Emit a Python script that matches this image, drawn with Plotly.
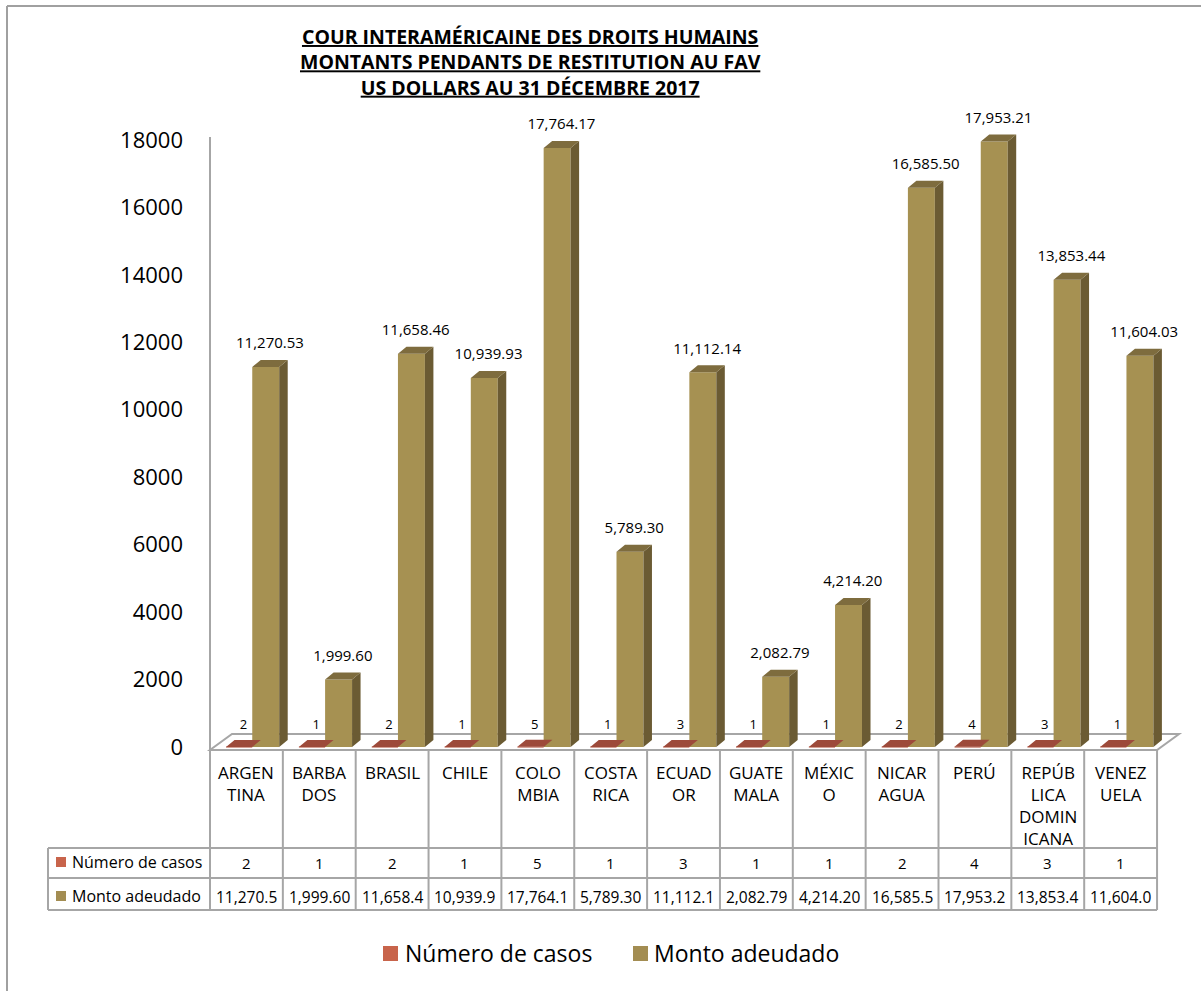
import plotly.graph_objects as go

# ---------------- data ----------------
pays = ["ARGEN<br>TINA", "BARBA<br>DOS", "BRASIL", "CHILE", "COLO<br>MBIA", "COSTA<br>RICA",
        "ECUAD<br>OR", "GUATE<br>MALA", "MÉXIC<br>O", "NICAR<br>AGUA", "PERÚ",
        "REPÚB<br>LICA<br>DOMIN<br>ICANA", "VENEZ<br>UELA"]
numero_casos = [2, 1, 2, 1, 5, 1, 3, 1, 1, 2, 4, 3, 1]
monto_adeudado = [11270.53, 1999.60, 11658.46, 10939.93, 17764.17, 5789.30, 11112.14,
                  2082.79, 4214.20, 16585.50, 17953.21, 13853.44, 11604.03]
y_ticks = [0, 2000, 4000, 6000, 8000, 10000, 12000, 14000, 16000, 18000]
serie_names = ["Número de casos", "Monto adeudado"]
title_lines = ["COUR INTERAMÉRICAINE DES DROITS HUMAINS",
               "MONTANTS PENDANTS DE RESTITUTION AU FAV",
               "US DOLLARS AU 31 DÉCEMBRE 2017"]

# ---------------- layout helpers ----------------
W, H = 1201, 991
FONT = "Open Sans"
def fx(px): return px / W
def fy(py): return 1 - py / H

RED_FRONT, RED_SIDE, RED_TOP, RED_LEG = "#B5533F", "#7E3A2C", "#9D4A3A", "#C8644B"
GOLD_FRONT, GOLD_SIDE, GOLD_TOP, GOLD_LEG = "#A69152", "#6B5B33", "#7E6C3E", "#A38D52"
GRID = "#A6A6A6"

X0PX = 210           # left of plot area
COLW = 72.85         # column width in px
N = len(pays)
XRIGHT = X0PX + COLW * N
DEPTH_PX, RISE_PX = 22, 16   # floor perspective
Y0PX = 747
K = 607 / 18000      # px per unit
YLO, YHI = -150, 20000

dx = 8.5 / COLW      # bar depth in x units
dyv = 7 / K          # bar depth in y units

idx = list(range(N))
fig = go.Figure()

def add_series(vals, off, wid, c_front, c_side, c_top, name):
    fig.add_trace(go.Bar(x=idx, y=vals, offset=off, width=wid, marker_color=c_front,
                         marker_line_width=0, name=name, showlegend=False))
    sx, sy, tx, ty = [], [], [], []
    for i, v in zip(idx, vals):
        x0 = i + off
        x1 = x0 + wid
        sx += [x1, x1 + dx, x1 + dx, x1, x1, None]
        sy += [0, dyv, v + dyv, v, 0, None]
        tx += [x0, x1, x1 + dx, x0 + dx, x0, None]
        ty += [v, v, v + dyv, v + dyv, v, None]
    fig.add_trace(go.Scatter(x=sx, y=sy, fill="toself", fillcolor=c_side, mode="none",
                             showlegend=False, hoverinfo="skip"))
    fig.add_trace(go.Scatter(x=tx, y=ty, fill="toself", fillcolor=c_top, mode="none",
                             showlegend=False, hoverinfo="skip"))

add_series(numero_casos, -0.28, 0.36, RED_FRONT, RED_SIDE, RED_TOP, serie_names[0])
add_series(monto_adeudado, 0.08, 0.37, GOLD_FRONT, GOLD_SIDE, GOLD_TOP, serie_names[1])

# data labels
fig.add_trace(go.Scatter(
    x=[i - 0.28 + 0.18 + dx / 2 for i in idx], y=[v + dyv + 8 / K for v in numero_casos],
    mode="text", text=[str(v) for v in numero_casos], textposition="top center",
    textfont=dict(family=FONT, size=13, color="#000"), cliponaxis=False,
    showlegend=False, hoverinfo="skip"))
fig.add_trace(go.Scatter(
    x=[i + 0.08 + 0.185 + dx / 2 for i in idx], y=[v + dyv + 8 / K for v in monto_adeudado],
    mode="text", text=[f"{v:,.2f}" for v in monto_adeudado], textposition="top center",
    textfont=dict(family=FONT, size=15, color="#000"), cliponaxis=False,
    showlegend=False, hoverinfo="skip"))

shapes = []
# outer frame
shapes.append(dict(type="line", xref="paper", yref="paper", x0=fx(7), x1=fx(1210),
                   y0=fy(6), y1=fy(6), line=dict(color="#A0A0A0", width=2)))
shapes.append(dict(type="line", xref="paper", yref="paper", x0=fx(7), x1=fx(7),
                   y0=fy(6), y1=fy(1000), line=dict(color="#A0A0A0", width=2)))
# floor
path = (f"M {fx(X0PX)} {fy(750)} L {fx(XRIGHT)} {fy(750)} "
        f"L {fx(XRIGHT + DEPTH_PX)} {fy(750 - RISE_PX)} L {fx(X0PX + DEPTH_PX)} {fy(750 - RISE_PX)} Z")
shapes.append(dict(type="path", xref="paper", yref="paper", path=path, fillcolor="white",
                   line=dict(color=GRID, width=2), layer="below"))
# wall / axis line
shapes.append(dict(type="line", xref="paper", yref="paper", x0=fx(X0PX), x1=fx(X0PX),
                   y0=fy(137), y1=fy(750), line=dict(color=GRID, width=2)))

# table
TOP, R1, R2, R3 = 750, 848, 878, 910
for j in range(N + 1):
    xp = X0PX + COLW * j
    shapes.append(dict(type="line", xref="paper", yref="paper", x0=fx(xp), x1=fx(xp),
                       y0=fy(TOP), y1=fy(R3), line=dict(color=GRID, width=2)))
for r in (R1, R2, R3):
    shapes.append(dict(type="line", xref="paper", yref="paper", x0=fx(48), x1=fx(XRIGHT),
                       y0=fy(r), y1=fy(r), line=dict(color=GRID, width=2)))
shapes.append(dict(type="line", xref="paper", yref="paper", x0=fx(48), x1=fx(48),
                   y0=fy(R1), y1=fy(R3), line=dict(color=GRID, width=2)))
# row-label keys
for (yc, col) in ((862, RED_LEG), (896, GOLD_LEG)):
    shapes.append(dict(type="rect", xref="paper", yref="paper", x0=fx(56), x1=fx(66),
                       y0=fy(yc - 5), y1=fy(yc + 5), fillcolor=col, line=dict(width=0)))
# bottom legend keys
for (xl, col) in ((383, RED_LEG), (633, GOLD_LEG)):
    shapes.append(dict(type="rect", xref="paper", yref="paper", x0=fx(xl), x1=fx(xl + 15),
                       y0=fy(946), y1=fy(961), fillcolor=col, line=dict(width=0)))

ann = []
for i, lab in enumerate(pays):
    xc = X0PX + COLW * (i + 0.5)
    ann.append(dict(x=fx(xc), y=fy(759), xref="paper", yref="paper", text=lab,
                    showarrow=False, xanchor="center", yanchor="top",
                    font=dict(family=FONT, size=17, color="#000")))
    ann.append(dict(x=fx(xc), y=fy(863), xref="paper", yref="paper", text=str(numero_casos[i]),
                    showarrow=False, xanchor="center", yanchor="middle",
                    font=dict(family=FONT, size=15, color="#000")))
    ann.append(dict(x=fx(xc), y=fy(897), xref="paper", yref="paper",
                    text=f"{monto_adeudado[i]:,.2f}"[:8],
                    showarrow=False, xanchor="center", yanchor="middle",
                    font=dict(family=FONT, size=15.5, color="#000")))
ann.append(dict(x=fx(70), y=fy(862), xref="paper", yref="paper", text=serie_names[0],
                showarrow=False, xanchor="left", yanchor="middle",
                font=dict(family=FONT, size=16, color="#000")))
ann.append(dict(x=fx(70), y=fy(896), xref="paper", yref="paper", text=serie_names[1],
                showarrow=False, xanchor="left", yanchor="middle",
                font=dict(family=FONT, size=16, color="#000")))
ann.append(dict(x=fx(403), y=fy(953), xref="paper", yref="paper", text=serie_names[0],
                showarrow=False, xanchor="left", yanchor="middle",
                font=dict(family=FONT, size=23, color="#000")))
ann.append(dict(x=fx(652), y=fy(953), xref="paper", yref="paper", text=serie_names[1],
                showarrow=False, xanchor="left", yanchor="middle",
                font=dict(family=FONT, size=23, color="#000")))
ann.append(dict(x=fx(530), y=fy(62), xref="paper", yref="paper",
                text="<br>".join(f"<u><b>{t}</b></u>" for t in title_lines),
                showarrow=False, xanchor="center", yanchor="middle",
                font=dict(family=FONT, size=19.5, color="#000")))

fig.update_layout(
    width=W, height=H, autosize=False,
    margin=dict(l=0, r=0, t=0, b=0, pad=0, autoexpand=False),
    paper_bgcolor="white", plot_bgcolor="rgba(0,0,0,0)",
    barmode="overlay", showlegend=False,
    xaxis=dict(range=[-0.5, -0.5 + (XRIGHT + DEPTH_PX - X0PX) / COLW],
               domain=[fx(X0PX), fx(XRIGHT + DEPTH_PX)], automargin=False,
               showticklabels=False, showgrid=False, zeroline=False, showline=False, ticks=""),
    yaxis=dict(range=[YLO, YHI], domain=[fy(Y0PX - YLO * K), fy(Y0PX - YHI * K)],
               automargin=False,
               tickvals=y_ticks, ticktext=[str(t) for t in y_ticks],
               showgrid=False, zeroline=False, showline=False, ticks="",
               ticklabelstandoff=26, tickfont=dict(family=FONT, size=22, color="#000")),
    shapes=shapes, annotations=ann,
)
fig.write_html("out.html", config={"responsive": False})
